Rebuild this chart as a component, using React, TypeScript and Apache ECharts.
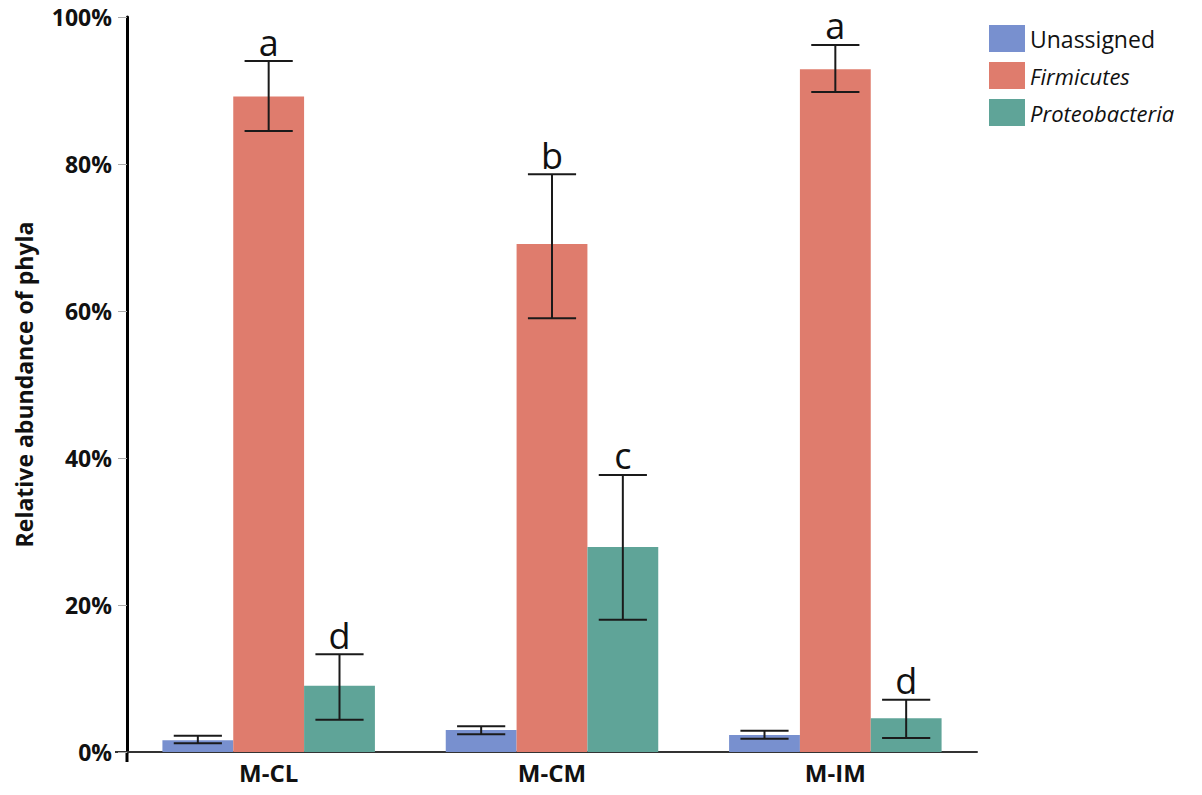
import React, { useEffect, useRef } from "react";
import * as echarts from "echarts";

const categories = ["M-CL", "M-CM", "M-IM"];
const seriesNames = ["Unassigned", "Firmicutes", "Proteobacteria"];
const unassigned = [1.6, 3.0, 2.3];
const unassignedLow = [1.2, 2.4, 1.8];
const unassignedHigh = [2.2, 3.5, 2.9];
const firmicutes = [89.2, 69.1, 92.9];
const firmicutesLow = [84.5, 59.0, 89.8];
const firmicutesHigh = [94.0, 78.6, 96.2];
const proteobacteria = [9.0, 27.9, 4.6];
const proteobacteriaLow = [4.4, 18.0, 1.9];
const proteobacteriaHigh = [13.3, 37.7, 7.1];
const unassignedLetters = ["", "", ""];
const firmicutesLetters = ["a", "b", "a"];
const proteobacteriaLetters = ["d", "c", "d"];
const yTicks = [0, 20, 40, 60, 80, 100];

const colors = ["#7890cf", "#df7c6d", "#5fa498"];
const FONT = "'Open Sans', 'Noto Sans', sans-serif";

function errSeries(k: number, low: number[], high: number[], letters: string[]) {
  return {
    type: "custom",
    name: seriesNames[k] + " err",
    z: 10,
    encode: { x: 0, y: [1, 2] },
    data: low.map((lo, i) => [i, lo, high[i]]),
    renderItem: (params: any, api: any) => {
      const cat = api.value(0);
      const lo = api.value(1);
      const hi = api.value(2);
      const bandW = api.size([1, 0])[0];
      const barW = (bandW * 0.75) / 3;
      const offset = (k - 1) * barW;
      const pLo = api.coord([cat, lo]);
      const pHi = api.coord([cat, hi]);
      const x = pLo[0] + offset;
      const half = barW * 0.34;
      const ls = { stroke: "#1a1a1a", lineWidth: 2 };
      const children: any[] = [
        { type: "line", shape: { x1: x, y1: pLo[1], x2: x, y2: pHi[1] }, style: ls },
        { type: "line", shape: { x1: x - half, y1: pLo[1], x2: x + half, y2: pLo[1] }, style: ls },
        { type: "line", shape: { x1: x - half, y1: pHi[1], x2: x + half, y2: pHi[1] }, style: ls },
      ];
      const letter = letters[params.dataIndex];
      if (letter) {
        children.push({
          type: "text",
          x: x,
          y: pHi[1] - 4,
          style: {
            text: letter,
            fontSize: 36,
            lineHeight: 30,
            fontFamily: FONT,
            fill: "#111",
            align: "center",
            verticalAlign: "bottom",
          },
        });
      }
      return { type: "group", children };
    },
  };
}

export default function App() {
  const ref = useRef<HTMLDivElement>(null);
  useEffect(() => {
    if (!ref.current) return;
    const chart = echarts.init(ref.current, null, { renderer: "svg" });
    const barBase = {
      type: "bar",
      barGap: "0%",
      barCategoryGap: "25%",
    };
    chart.setOption({
      animation: false,
      backgroundColor: "#ffffff",
      grid: { left: 127, right: 225, top: 17, bottom: 43 },
      graphic: [
        { type: "line", shape: { x1: 115, y1: 752, x2: 128, y2: 752 }, style: { stroke: "#333", lineWidth: 2 } },
        { type: "rect", shape: { x: 125.5, y: 752, width: 3, height: 10 }, style: { fill: "#000" } },
      ],
      legend: {
        data: seriesNames,
        orient: "vertical",
        left: 984,
        top: 20,
        itemWidth: 36,
        itemHeight: 27,
        itemGap: 10,
        icon: "rect",
        formatter: (name: string) => (name === "Unassigned" ? name : "{i|" + name + "}"),
        textStyle: {
          fontSize: 23,
          fontFamily: FONT,
          color: "#111",
          rich: { i: { fontStyle: "italic", fontSize: 22, fontFamily: FONT, color: "#111" } },
        },
      },
      xAxis: {
        type: "category",
        data: categories,
        axisLine: { lineStyle: { color: "#333", width: 2 } },
        axisTick: { show: false },
        axisLabel: { fontSize: 24, fontWeight: "bold", color: "#111", fontFamily: FONT, margin: 8 },
      },
      yAxis: {
        type: "value",
        min: yTicks[0],
        max: yTicks[yTicks.length - 1],
        interval: 20,
        name: "Relative abundance of phyla",
        nameLocation: "middle",
        nameRotate: 90,
        nameGap: 92,
        nameTextStyle: { fontSize: 23, fontWeight: "bold", color: "#111", fontFamily: FONT },
        axisLine: { show: true, lineStyle: { color: "#000", width: 3 } },
        axisTick: { show: true, length: 9, lineStyle: { color: "#aaa", width: 1 } },
        splitLine: { show: false },
        axisLabel: {
          formatter: "{value}%",
          fontSize: 23,
          fontWeight: "bold",
          color: "#111",
          fontFamily: FONT,
          margin: 15,
        },
      },
      series: [
        { ...barBase, name: seriesNames[0], data: unassigned, itemStyle: { color: colors[0] } },
        { ...barBase, name: seriesNames[1], data: firmicutes, itemStyle: { color: colors[1] } },
        { ...barBase, name: seriesNames[2], data: proteobacteria, itemStyle: { color: colors[2] } },
        errSeries(0, unassignedLow, unassignedHigh, unassignedLetters),
        errSeries(1, firmicutesLow, firmicutesHigh, firmicutesLetters),
        errSeries(2, proteobacteriaLow, proteobacteriaHigh, proteobacteriaLetters),
      ],
    });
    return () => chart.dispose();
  }, []);
  return (
    <div
      ref={ref}
      style={{ position: "fixed", left: 0, top: 0, width: 1202, height: 795, background: "#fff" }}
    />
  );
}
